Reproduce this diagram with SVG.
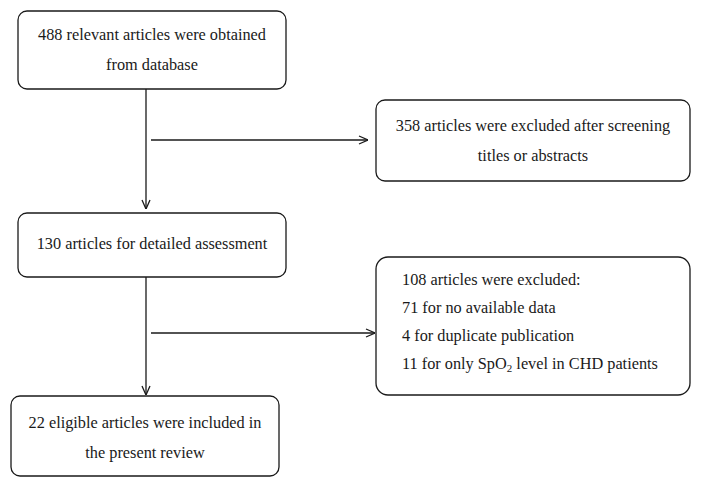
<svg xmlns="http://www.w3.org/2000/svg" width="701" height="487" viewBox="0 0 701 487">
<style>
.box{fill:#fff;stroke:#1a1a1a;stroke-width:1.3}
.t{font-family:"Liberation Serif","Times New Roman",serif;font-size:16.3px;fill:#1a1a1a}
.c{text-anchor:middle}
.ln{stroke:#1a1a1a;stroke-width:1.3;fill:none}
</style>
<defs>
<marker id="ah" viewBox="0 0 10 10" refX="10" refY="5" markerWidth="10" markerHeight="10" markerUnits="userSpaceOnUse" orient="auto">
<path d="M1,1 L10,5 L1,9" fill="none" stroke="#1a1a1a" stroke-width="1.3"/>
</marker>
</defs>
<rect width="701" height="487" fill="#fff"/>
<g id="connectors">
<line class="ln" x1="146" y1="89" x2="146" y2="209" marker-end="url(#ah)"/>
<line class="ln" x1="151" y1="140" x2="368" y2="140" marker-end="url(#ah)"/>
<line class="ln" x1="146" y1="277" x2="146" y2="395" marker-end="url(#ah)"/>
<line class="ln" x1="151" y1="333" x2="375" y2="333" marker-end="url(#ah)"/>
</g>
<g id="n1">
<rect class="box" x="18" y="11" width="268" height="78" rx="9"/>
<text class="t c" x="152" y="40">488 relevant articles were obtained</text>
<text class="t c" x="152" y="70">from database</text>
</g>
<g id="n2">
<rect class="box" x="376" y="100" width="314" height="81" rx="9"/>
<text class="t c" x="533" y="131">358 articles were excluded after screening</text>
<text class="t c" x="533" y="161">titles or abstracts</text>
</g>
<g id="n3">
<rect class="box" x="18" y="213" width="268" height="64" rx="9"/>
<text class="t c" x="152" y="249">130 articles for detailed assessment</text>
</g>
<g id="n4">
<rect class="box" x="376" y="257" width="314" height="138" rx="12"/>
<text class="t" x="402" y="285">108 articles were excluded:</text>
<text class="t" x="402" y="313">71 for no available data</text>
<text class="t" x="402" y="341">4 for duplicate publication</text>
<text class="t" x="402" y="369">11 for only SpO<tspan font-size="11" dy="3">2</tspan><tspan dy="-3"> level in CHD patients</tspan></text>
</g>
<g id="n5">
<rect class="box" x="11" y="396" width="268" height="80" rx="9"/>
<text class="t c" x="145" y="428">22 eligible articles were included in</text>
<text class="t c" x="145" y="458">the present review</text>
</g>
</svg>
